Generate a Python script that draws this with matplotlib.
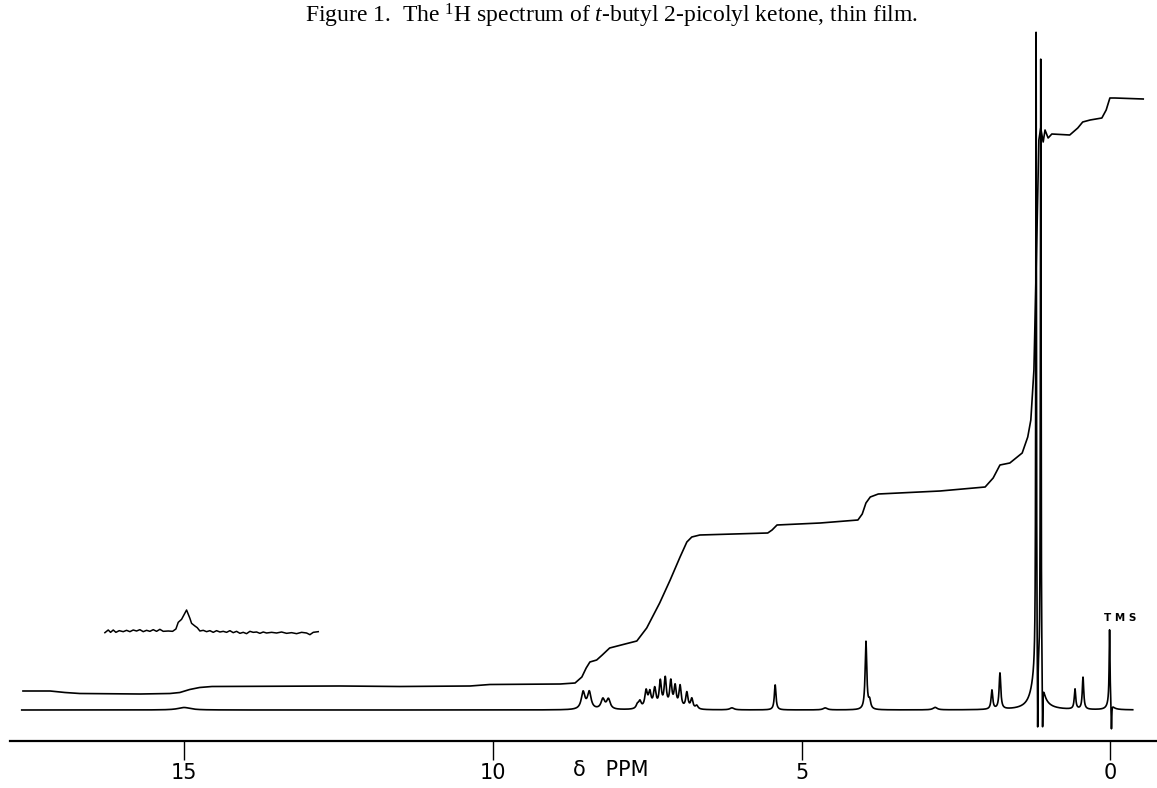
import numpy as np
import matplotlib
matplotlib.use("Agg")
import matplotlib.pyplot as plt

plt.rcParams["mathtext.fontset"] = "custom"
plt.rcParams["mathtext.rm"] = "Liberation Serif"
plt.rcParams["mathtext.it"] = "Liberation Serif:italic"

# ---------------- data ----------------
# spectrum peaks: position (ppm), height (chart units above baseline), half width (ppm)
peak_ppm = [15.00, 8.54, 8.44, 8.22, 8.13, 7.66, 7.62, 7.52, 7.46, 7.38, 7.29, 7.21,
            7.12, 7.05, 6.97, 6.86, 6.78, 6.70, 6.13, 5.43, 4.62, 3.96, 3.90, 2.84,
            1.92, 1.79, 1.20, 1.205, 1.13, 1.18, 1.10, 0.575, 0.445, 0.015, 0.015, -0.015]
peak_height = [2.5, 17, 17, 10, 10, 4, 7, 17, 15, 19, 26, 29,
               26, 21, 22, 16, 10, 3.5, 2, 25, 2, 68, 8, 2.5,
               19, 36, 40, 640, 630, -98, -58, 20, 32, 73, 8, -29]
peak_hw = [0.12, 0.035, 0.035, 0.035, 0.035, 0.025, 0.025, 0.025, 0.025, 0.025, 0.022, 0.022,
           0.022, 0.022, 0.022, 0.022, 0.022, 0.025, 0.04, 0.016, 0.04, 0.016, 0.02, 0.04,
           0.016, 0.016, 0.08, 0.006, 0.006, 0.006, 0.006, 0.014, 0.014, 0.008, 0.04, 0.006]
spec_start, spec_end = 17.63, -0.36

# integral trace: ppm, height
int_ppm = [17.61, 17.17, 16.93, 16.69, 15.71, 15.23, 15.07, 14.91, 14.75, 14.55, 12.48,
           11.51, 10.37, 10.05, 8.91, 8.67, 8.56, 8.49, 8.43, 8.32, 8.23, 8.11, 7.86,
           7.67, 7.51, 7.30, 7.13, 6.97, 6.86, 6.78, 6.65, 5.55, 5.48, 5.40, 4.70, 4.09,
           4.02, 3.96, 3.89, 3.76, 2.76, 2.03, 1.90, 1.79, 1.63, 1.43, 1.34, 1.29, 1.24,
           1.19, 1.16, 1.13, 1.09, 1.06, 1.01, 0.95, 0.66, 0.53, 0.45, 0.33, 0.14, 0.07,
           0.01, -0.07, -0.53]
int_height = [19, 19, 17.5, 16.5, 16, 16.5, 17.5, 20.5, 22.5, 23.5, 24,
              23.5, 24, 25.5, 26, 27, 33, 42, 48, 50, 55, 62, 66,
              69, 82, 107, 130, 153, 168, 173, 175, 177, 180, 185, 187, 190,
              196, 207, 213, 216, 219, 223, 232, 245, 247, 257, 273, 290, 340,
              480, 570, 582, 568, 580, 572, 576, 575, 582, 588, 590, 592, 600,
              612, 612, 611]

# high-gain inset around the 15 ppm enol signal: pixel-read trace (x px, y px)
inset_xd = [45, 55, 62, 70, 78, 88, 100, 110, 120, 130, 140, 150, 160, 170, 180, 190, 200,
            210, 220, 235, 248, 258, 265, 275, 290, 300, 305, 315, 322, 330, 340, 350, 360,
            370, 380, 390, 400, 410, 420, 430, 440, 450, 460, 470, 480, 490, 500, 510, 520,
            530, 545, 560, 575, 590, 605, 620, 635, 650, 660, 670, 685]
inset_yd = [128, 120, 127, 120, 127, 122, 125, 121, 125, 120, 123, 119, 125, 121, 124, 119, 124,
            118, 124, 123, 124, 117, 97, 88, 60, 85, 100, 108, 113, 123, 121, 125, 122,
            127, 122, 126, 124, 127, 122, 128, 124, 130, 127, 131, 124, 127, 126, 130, 126,
            129, 127, 129, 126, 130, 128, 131, 127, 129, 134, 127, 125]
inset_ppm = [(1110.5 - (90 + d / 3.0)) / 61.75 for d in inset_xd]
inset_height = [710 - (590 + d / 3.0) for d in inset_yd]

tick_vals = [15, 10, 5, 0]
tick_text = ["15", "10", "5", "0"]

# ---------------- figure ----------------
W, H = 1157, 788
fig = plt.figure(figsize=(W / 100, H / 100), dpi=100)
ax = fig.add_axes([10 / W, (H - 741) / H, 1 - 10 / W, 741 / H])
ax.set_xlim(17.82, -0.753)
ax.set_ylim(-31, 710)

x = np.linspace(spec_start, spec_end, 20000)
y = np.zeros_like(x)
for p, h, w in zip(peak_ppm, peak_height, peak_hw):
    y += h / (1 + ((x - p) / w) ** 2)
ax.plot(x, y, color="black", lw=1.2, solid_joinstyle="round")

ax.plot(int_ppm, int_height, color="black", lw=1.2, solid_joinstyle="round")
ax.plot(inset_ppm, inset_height, color="black", lw=1.1)

ax.text(-0.16, 92, "T M S", ha="center", va="center", fontsize=7.5,
        fontweight="bold", family="DejaVu Sans")

for s in ["left", "right", "top"]:
    ax.spines[s].set_visible(False)
ax.spines["bottom"].set_linewidth(1.6)
ax.set_yticks([])
ax.set_xticks(tick_vals)
ax.set_xticklabels(tick_text, family="DejaVu Sans", fontsize=15)
ax.tick_params(axis="x", direction="out", length=13.5, width=1.0, pad=2)

ax.text(8.1, -60, "δ   PPM", ha="center", va="center", fontsize=15,
        family="DejaVu Sans")

fig.text(611 / W, (H - 23) / H,
         "Figure 1.  The $^{1}$H spectrum of $t$-butyl 2-picolyl ketone, thin film.",
         ha="center", va="baseline", fontsize=17, family="Liberation Serif")

fig.savefig("out.png", dpi=100)
